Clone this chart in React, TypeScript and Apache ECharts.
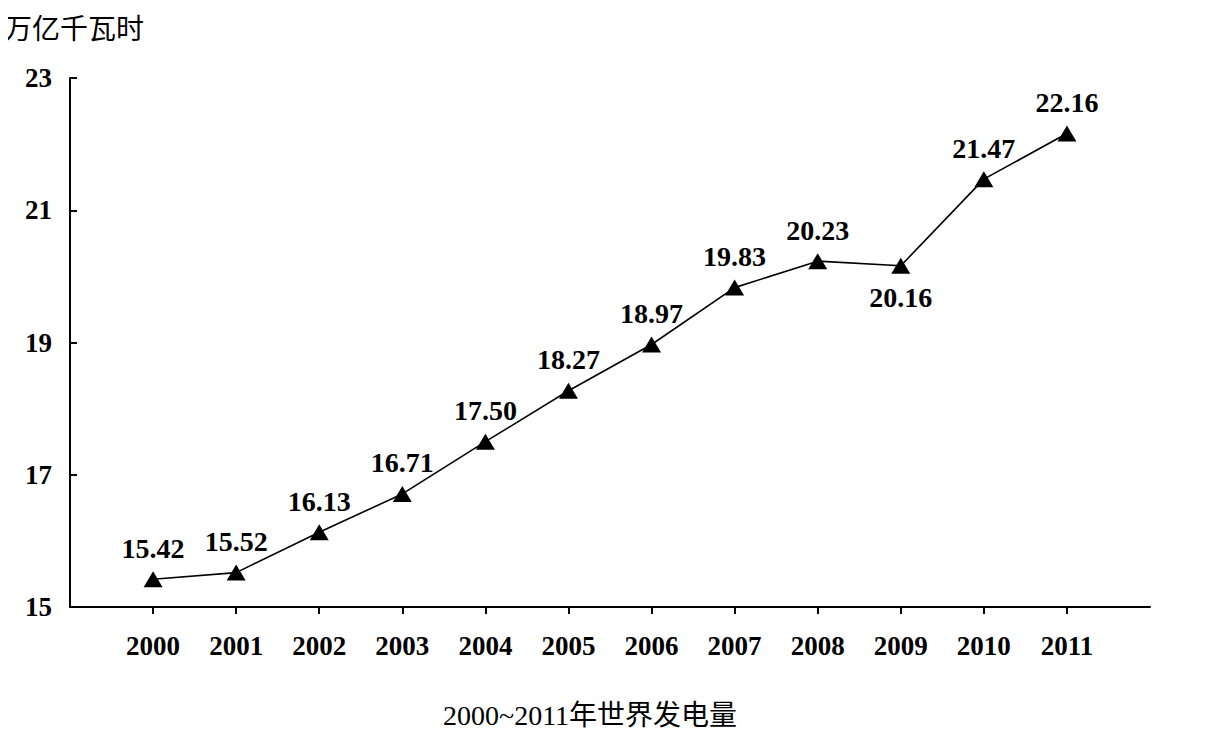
import React, { useEffect, useRef } from "react";
import * as echarts from "echarts";

const years = [2000, 2001, 2002, 2003, 2004, 2005, 2006, 2007, 2008, 2009, 2010, 2011];
const values = [15.42, 15.52, 16.13, 16.71, 17.5, 18.27, 18.97, 19.83, 20.23, 20.16, 21.47, 22.16];
const belowYears = [2009];
const yTicks = [15, 17, 19, 21, 23];
const yName = "万亿千瓦时";
const title = "2000~2011年世界发电量";

const FONT = "'Liberation Serif', 'Times New Roman', 'Noto Sans CJK SC', serif";

export default function App() {
  const ref = useRef<HTMLDivElement>(null);
  useEffect(() => {
    if (!ref.current) return;
    const chart = echarts.init(ref.current, undefined, { renderer: "svg" });
    const data = years.map((y, i) => {
      const below = belowYears.includes(y);
      return {
        value: [y, values[i]],
        label: {
          position: below ? "bottom" : "top",
          distance: below ? 10 : 9,
        },
      };
    });
    chart.setOption({
      animation: false,
      backgroundColor: "#ffffff",
      graphic: [
        {
          type: "text",
          left: 4,
          top: 15,
          style: { text: yName, font: `28px ${FONT}`, fill: "#000" },
        },
        {
          type: "text",
          left: 443,
          top: 701,
          style: { text: title, font: `28px ${FONT}`, fill: "#000" },
        },
      ],
      grid: { left: 70, right: 68, top: 78, bottom: 129, containLabel: false },
      xAxis: {
        type: "value",
        min: 1999,
        max: 2012,
        interval: 1,
        splitLine: { show: false },
        axisLine: { show: true, lineStyle: { color: "#000", width: 2 } },
        axisTick: {
          show: true,
          customValues: years,
          length: 7,
          inside: false,
          lineStyle: { color: "#000", width: 2 },
        },
        axisLabel: {
          customValues: years,
          formatter: (v: number) => String(v),
          margin: 25,
          color: "#000",
          fontFamily: FONT,
          fontWeight: "bold",
          fontSize: 27,
        },
      },
      yAxis: {
        type: "value",
        min: 15,
        max: 23,
        interval: 2,
        splitLine: { show: false },
        axisLine: { show: true, lineStyle: { color: "#000", width: 2 } },
        axisTick: {
          show: true,
          inside: true,
          length: 7,
          lineStyle: { color: "#000", width: 2 },
        },
        axisLabel: {
          customValues: yTicks,
          margin: 18,
          color: "#000",
          fontFamily: FONT,
          fontWeight: "bold",
          fontSize: 27,
        },
      },
      series: [
        {
          type: "line",
          data,
          symbol: "triangle",
          symbolSize: [19, 16],
          itemStyle: { color: "#000" },
          lineStyle: { color: "#000", width: 1.6 },
          label: {
            show: true,
            color: "#000",
            fontFamily: FONT,
            fontWeight: "bold",
            fontSize: 28,
            formatter: (p: any) => p.value[1].toFixed(2),
          },
        },
      ],
    });
    return () => chart.dispose();
  }, []);
  return <div ref={ref} style={{ width: 1218, height: 736, margin: -8 }} />;
}
